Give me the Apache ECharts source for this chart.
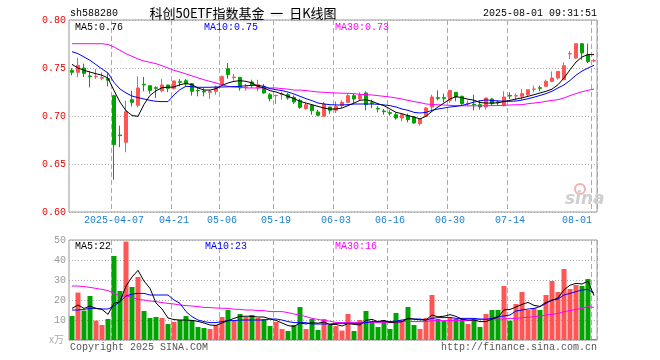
<!DOCTYPE html>
<html><head><meta charset="utf-8">
<script src="https://cdn.jsdelivr.net/npm/echarts@6/dist/echarts.min.js"></script>
<style>html,body{margin:0;padding:0;background:#fff}#c{width:660px;height:360px}</style>
</head><body><div id="c"></div>
<script>
const dates = ['2025-03-26','2025-03-27','2025-03-28','2025-03-31','2025-04-01','2025-04-02','2025-04-03','2025-04-07','2025-04-08','2025-04-09',
'2025-04-10','2025-04-11','2025-04-14','2025-04-15','2025-04-16','2025-04-17','2025-04-18','2025-04-21','2025-04-22','2025-04-23',
'2025-04-24','2025-04-25','2025-04-28','2025-04-29','2025-04-30','2025-05-06','2025-05-07','2025-05-08','2025-05-09','2025-05-12',
'2025-05-13','2025-05-14','2025-05-15','2025-05-16','2025-05-19','2025-05-20','2025-05-21','2025-05-22','2025-05-23','2025-05-26',
'2025-05-27','2025-05-28','2025-05-29','2025-05-30','2025-06-03','2025-06-04','2025-06-05','2025-06-06','2025-06-09','2025-06-10',
'2025-06-11','2025-06-12','2025-06-13','2025-06-16','2025-06-17','2025-06-18','2025-06-19','2025-06-20','2025-06-23','2025-06-24',
'2025-06-25','2025-06-26','2025-06-27','2025-06-30','2025-07-01','2025-07-02','2025-07-03','2025-07-04','2025-07-07','2025-07-08',
'2025-07-09','2025-07-10','2025-07-11','2025-07-14','2025-07-15','2025-07-16','2025-07-17','2025-07-18','2025-07-21','2025-07-22',
'2025-07-23','2025-07-24','2025-07-25','2025-07-28','2025-07-29','2025-07-30','2025-07-31','2025-08-01'];

const open = [0.7476,0.7455,0.7500,0.7417,0.7410,0.7393,0.7389,0.7212,0.6802,0.6726,
0.7170,0.7111,0.7330,0.7316,0.7295,0.7264,0.7323,0.7288,0.7358,0.7368,
0.7337,0.7267,0.7257,0.7247,0.7257,0.7326,0.7493,0.7400,0.7403,0.7299,
0.7354,0.7292,0.7309,0.7222,0.7212,0.7226,0.7222,0.7194,0.7163,0.7076,
0.7111,0.7042,0.6997,0.7094,0.7059,0.7108,0.7142,0.7212,0.7177,0.7240,
0.7139,0.7080,0.7052,0.7035,0.7014,0.6979,0.7003,0.6990,0.6920,0.6997,
0.7094,0.7191,0.7191,0.7163,0.7247,0.7205,0.7125,0.7122,0.7118,0.7094,
0.7177,0.7146,0.7108,0.7215,0.7208,0.7205,0.7222,0.7278,0.7295,0.7309,
0.7361,0.7396,0.7378,0.7646,0.7604,0.7753,0.7639,0.7573];
const close = [0.7455,0.7528,0.7444,0.7410,0.7413,0.7400,0.7372,0.6701,0.6795,0.7045,
0.7142,0.7292,0.7323,0.7267,0.7288,0.7323,0.7288,0.7365,0.7351,0.7333,
0.7257,0.7264,0.7250,0.7254,0.7302,0.7410,0.7431,0.7406,0.7292,0.7302,
0.7319,0.7326,0.7240,0.7181,0.7215,0.7229,0.7188,0.7146,0.7090,0.7118,
0.7056,0.7007,0.7125,0.7059,0.7101,0.7142,0.7212,0.7177,0.7222,0.7118,
0.7132,0.7073,0.7045,0.7028,0.6979,0.7014,0.6962,0.6927,0.6969,0.7083,
0.7198,0.7184,0.7184,0.7267,0.7198,0.7128,0.7128,0.7115,0.7094,0.7188,
0.7128,0.7139,0.7198,0.7208,0.7212,0.7233,0.7274,0.7281,0.7288,0.7361,
0.7396,0.7465,0.7524,0.7649,0.7753,0.7656,0.7569,0.7576];
const low = [0.7424,0.7403,0.7406,0.7299,0.7385,0.7372,0.7309,0.6337,0.6674,0.6622,
0.7100,0.7090,0.7257,0.7233,0.7187,0.7247,0.7250,0.7274,0.7309,0.7309,
0.7212,0.7205,0.7205,0.7177,0.7222,0.7319,0.7389,0.7368,0.7264,0.7264,
0.7292,0.7257,0.7230,0.7153,0.7125,0.7170,0.7170,0.7125,0.7076,0.7066,
0.7014,0.6997,0.6997,0.7024,0.7031,0.7083,0.7135,0.7135,0.7163,0.7059,
0.7083,0.7038,0.7014,0.7003,0.6962,0.6944,0.6934,0.6920,0.6900,0.6997,
0.7049,0.7163,0.7142,0.7135,0.7153,0.7118,0.7100,0.7059,0.7066,0.7066,
0.7108,0.7108,0.7101,0.7177,0.7163,0.7170,0.7205,0.7247,0.7257,0.7302,
0.7351,0.7378,0.7378,0.7594,0.7594,0.7587,0.7552,0.7559];
const high = [0.7500,0.7604,0.7545,0.7465,0.7490,0.7455,0.7448,0.7220,0.6900,0.7160,
0.7264,0.7413,0.7406,0.7316,0.7309,0.7385,0.7323,0.7368,0.7385,0.7385,
0.7344,0.7300,0.7292,0.7274,0.7316,0.7424,0.7552,0.7438,0.7403,0.7333,
0.7378,0.7378,0.7333,0.7240,0.7222,0.7250,0.7240,0.7215,0.7180,0.7135,
0.7118,0.7066,0.7146,0.7094,0.7153,0.7163,0.7233,0.7240,0.7247,0.7257,
0.7170,0.7101,0.7073,0.7059,0.7038,0.7014,0.7024,0.6997,0.6969,0.7094,
0.7222,0.7267,0.7233,0.7267,0.7247,0.7212,0.7163,0.7222,0.7163,0.7188,
0.7188,0.7163,0.7257,0.7247,0.7233,0.7281,0.7274,0.7316,0.7316,0.7378,
0.7465,0.7465,0.7559,0.7674,0.7753,0.7760,0.7753,0.7594];

const ma5 = [0.7538,0.7500,0.7476,0.7458,0.7440,0.7425,0.7395,0.7265,0.7145,0.7055,
0.7005,0.6997,0.7120,0.7215,0.7262,0.7295,0.7299,0.7302,0.7326,0.7340,
0.7326,0.7292,0.7270,0.7270,0.7285,0.7319,0.7344,0.7361,0.7368,0.7361,
0.7344,0.7309,0.7292,0.7264,0.7250,0.7229,0.7205,0.7181,0.7153,0.7135,
0.7118,0.7100,0.7083,0.7072,0.7073,0.7083,0.7108,0.7135,0.7163,0.7170,
0.7153,0.7128,0.7108,0.7073,0.7038,0.7024,0.7003,0.6990,0.6969,0.6997,
0.7049,0.7094,0.7135,0.7177,0.7202,0.7190,0.7175,0.7165,0.7140,0.7135,
0.7135,0.7137,0.7150,0.7163,0.7177,0.7188,0.7205,0.7222,0.7240,0.7257,
0.7280,0.7326,0.7396,0.7481,0.7562,0.7615,0.7640,0.7639];
const ma10 = [0.7670,0.7649,0.7615,0.7580,0.7535,0.7490,0.7448,0.7350,0.7281,0.7240,
0.7208,0.7192,0.7177,0.7163,0.7153,0.7150,0.7150,0.7220,0.7275,0.7309,
0.7305,0.7299,0.7299,0.7299,0.7302,0.7302,0.7304,0.7306,0.7309,0.7316,
0.7319,0.7319,0.7309,0.7285,0.7274,0.7264,0.7250,0.7229,0.7205,0.7181,
0.7160,0.7135,0.7125,0.7118,0.7115,0.7115,0.7118,0.7125,0.7125,0.7125,
0.7125,0.7122,0.7115,0.7108,0.7094,0.7073,0.7059,0.7038,0.7031,0.7038,
0.7059,0.7073,0.7083,0.7094,0.7100,0.7110,0.7127,0.7145,0.7158,0.7168,
0.7161,0.7157,0.7155,0.7153,0.7156,0.7166,0.7180,0.7196,0.7214,0.7233,
0.7258,0.7292,0.7324,0.7370,0.7425,0.7468,0.7500,0.7528];
const ma30 = [0.7753,0.7753,0.7753,0.7753,0.7753,0.7753,0.7745,0.7719,0.7684,0.7649,
0.7622,0.7594,0.7572,0.7559,0.7545,0.7524,0.7500,0.7476,0.7458,0.7438,
0.7418,0.7398,0.7377,0.7361,0.7344,0.7326,0.7309,0.7302,0.7299,0.7292,
0.7292,0.7292,0.7292,0.7292,0.7292,0.7285,0.7280,0.7270,0.7270,0.7265,
0.7257,0.7250,0.7247,0.7243,0.7240,0.7238,0.7236,0.7233,0.7226,0.7223,
0.7219,0.7212,0.7205,0.7198,0.7188,0.7177,0.7163,0.7150,0.7140,0.7125,
0.7120,0.7117,0.7114,0.7111,0.7108,0.7107,0.7106,0.7106,0.7106,0.7107,
0.7108,0.7109,0.7111,0.7115,0.7117,0.7118,0.7128,0.7135,0.7142,0.7153,
0.7163,0.7170,0.7188,0.7212,0.7233,0.7253,0.7267,0.7281];

const vol = [12,23.7,14.7,22,9.7,7.5,10.5,42,24.5,49.2,
26.5,31.5,14.5,11,11.5,11,8,9,10,12,
10,6.5,6,5.5,7.5,11.5,15,9.5,13,11.5,
12.5,11,10.5,7,9,5.5,4.5,7.5,16.5,5.5,
10.5,5,10.5,7.5,7,4.7,13,4.5,10,14.5,
9.5,6.5,9.5,5.5,13.5,10,16.5,7.5,5.5,11,
22.5,10.5,9.5,11,10.5,10.5,8,10.5,6.5,13,
15,15,27,9.7,18,24,15,16,15,22.5,
29.5,24,35.5,25.5,27.5,27,30.5,0.5];
const vma5 = [15.8,17.5,15.8,17,15.8,15.3,12.8,18.3,19.2,27,
31.5,34.8,29.5,25.8,18.5,15.5,11,10.2,10,10,
9.8,9.3,8.5,7.5,7.3,8.5,9.7,10.8,11.8,11.9,
11.8,11.5,11.5,10.5,9.8,8.5,7.2,6.8,8.5,8,
8.7,8.4,9,7.7,7.8,7,8.2,7.8,7.5,9.8,
10.3,9.2,9.8,8.7,9,9.1,10.9,10.4,10.1,10,
12.5,11.6,11.9,12.7,11.8,10.4,10,10,9.2,9.2,
10.4,11.4,15,15.3,16.5,17.8,18.8,17.3,16.8,18.8,
19.8,21,25.1,27.4,28.3,28,29.4,22.2];
const vma10 = [15,15,15.3,15.8,15.8,15.5,15.5,17,19.2,22,
23,23.3,23.3,22.5,22.5,22.5,22.5,20,18.3,14.2,
11.7,10,9.2,8.7,8.7,9.2,9.7,9.7,10,10,
10,10,10,10.5,10.5,10,9.2,8.7,8.7,8.7,
8,8,8,8,8.3,8.3,8.3,8.3,8.3,8.7,
9.2,9.2,9.5,9.2,9.5,10,10.5,10.5,10.5,10,
10.8,11.2,11.2,11.3,10.8,10.8,10.8,10.8,10.5,10.3,
10.8,11.7,12,12.5,14.5,15,15.5,15.8,16.7,18.3,
20,20.5,22.5,23.3,24.2,25,25.3,23.4];
const vma30 = [27,27,26.7,26.3,25.8,25.3,24.7,23.3,22,22,
21.3,20.3,20,19.5,19.2,18.7,18.3,18,17.5,17.2,
17,16.7,16.3,16.2,16,15.9,15.8,15.4,15.3,15,
15,14.7,14.7,14.2,14.2,14.2,13.7,13,12.5,11.7,
10.8,10.3,9.7,9.4,8.8,8.7,8.7,8.8,8.8,8.8,
8.8,8.8,8.8,8.8,8.8,9.2,9.2,9.2,9.2,9.2,
9.7,9.7,9.7,9.7,9.7,9.7,9.7,10,10.3,10.5,
10.5,10.5,10.5,10.8,10.8,11.2,11.3,11.7,12,12.5,
12.8,13.3,14.2,14.7,15.3,15.8,16.7,16.3];

const tickDates = ['2025-04-07','2025-04-21','2025-05-06','2025-05-19','2025-06-03','2025-06-16','2025-06-30','2025-07-14','2025-08-01'];
const tickLabels = ['2025-04-07','04-21','05-06','05-19','06-03','06-16','06-30','07-14','08-01'];
const priceTicks = [0.60, 0.65, 0.70, 0.75, 0.80];
const volTicks = [10, 20, 30, 40, 50];

const UP = '#ff5555', DOWN = '#00a400';
const MONO = '"Liberation Mono","DejaVu Sans Mono",monospace';
const LABEL_BLUE = '#1a7fd0';
const isTick = (i, v) => tickDates.indexOf(v) >= 0;

const chart = echarts.init(document.getElementById('c'), null, {renderer: 'canvas'});
const candles = dates.map((d, i) => [open[i], close[i], low[i], high[i]]);
const volData = vol.map((v, i) => ({value: v, itemStyle: {color: close[i] >= open[i] ? UP : DOWN}}));
const last = dates.length - 1;

function txt(x, y, text, color, opts) {
  opts = opts || {};
  return {type: 'text', x: x, y: y, z: 100, silent: true,
    style: Object.assign({text: text, fill: color, font: opts.font || ('10px ' + MONO),
      textAlign: opts.align || 'left', align: opts.align || 'left',
      textVerticalAlign: 'middle', verticalAlign: 'middle'}, opts.style || {})};
}

const dashed = {show: true, interval: isTick, lineStyle: {color: '#aaa', type: [5, 3], width: 1}};
const dotted = {show: true, lineStyle: {color: '#aaa', type: [1, 2], width: 1}};

chart.setOption({
  animation: false,
  backgroundColor: '#fff',
  grid: [
    {left: 69, top: 20, width: 528, height: 192, show: true, borderColor: '#999', borderWidth: 1},
    {left: 69, top: 240, width: 528, height: 100, show: true, borderColor: '#999', borderWidth: 1}
  ],
  xAxis: [
    {type: 'category', gridIndex: 0, data: dates, boundaryGap: true,
     axisLine: {show: false}, axisTick: {show: false},
     axisLabel: {interval: isTick, margin: 3, color: LABEL_BLUE, fontFamily: MONO, fontSize: 10,
       formatter: v => v === dates[last] ? '{e|' + tickLabels[tickDates.indexOf(v)] + '}' : tickLabels[tickDates.indexOf(v)],
       rich: {e: {color: LABEL_BLUE, fontFamily: MONO, fontSize: 10, padding: [0, 34, 0, 0]}}},
     splitLine: dashed},
    {type: 'category', gridIndex: 1, data: dates, boundaryGap: true,
     axisLine: {show: false}, axisTick: {show: false}, axisLabel: {show: false},
     splitLine: dashed}
  ],
  yAxis: [
    {type: 'value', gridIndex: 0, min: priceTicks[0], max: priceTicks[priceTicks.length - 1], interval: 0.05,
     axisLine: {show: false}, axisTick: {show: false},
     axisLabel: {margin: 3, color: '#ee0000', fontFamily: MONO, fontSize: 10, formatter: v => v.toFixed(2)},
     splitLine: dotted},
    {type: 'value', gridIndex: 1, min: 0, max: volTicks[volTicks.length - 1], interval: 10,
     axisLine: {show: false}, axisTick: {show: false},
     axisLabel: {margin: 3, color: '#999', fontFamily: MONO, fontSize: 10, formatter: v => v === 0 ? '' : String(v)},
     splitLine: dotted}
  ],
  series: [
    {type: 'candlestick', xAxisIndex: 0, yAxisIndex: 0, data: candles, barWidth: 4,
     itemStyle: {color: UP, color0: DOWN, borderColor: UP, borderColor0: DOWN, borderWidth: 1}},
    {type: 'line', xAxisIndex: 0, yAxisIndex: 0, data: ma30, symbol: 'none', lineStyle: {color: '#ff00ff', width: 1}},
    {type: 'line', xAxisIndex: 0, yAxisIndex: 0, data: ma10, symbol: 'none', lineStyle: {color: '#0000ff', width: 1}},
    {type: 'line', xAxisIndex: 0, yAxisIndex: 0, data: ma5, symbol: 'none', lineStyle: {color: '#000', width: 1}},
    {type: 'bar', xAxisIndex: 1, yAxisIndex: 1, data: volData, barWidth: 5},
    {type: 'line', xAxisIndex: 1, yAxisIndex: 1, data: vma30, symbol: 'none', lineStyle: {color: '#ff00ff', width: 1}},
    {type: 'line', xAxisIndex: 1, yAxisIndex: 1, data: vma10, symbol: 'none', lineStyle: {color: '#0000ff', width: 1}},
    {type: 'line', xAxisIndex: 1, yAxisIndex: 1, data: vma5, symbol: 'none', lineStyle: {color: '#000', width: 1}}
  ],
  graphic: [
    txt(70, 13, 'sh588280', '#000'),
    txt(243, 13, '科创50ETF指数基金  一  日K线图', '#000',
      {align: 'center', font: '13px "Noto Sans CJK SC"', style: {textShadowColor: 'rgba(0,0,0,0.15)', textShadowOffsetY: 2, textShadowBlur: 2}}),
    txt(597, 13, '2025-08-01 09:31:51', '#000', {align: 'right'}),
    txt(75, 27, 'MA5:' + ma5[last].toFixed(2), '#000'),
    txt(204, 27, 'MA10:' + ma10[last].toFixed(2), '#0000ff'),
    txt(335, 27, 'MA30:' + ma30[last].toFixed(2), '#ff00ff'),
    txt(75, 246, 'MA5:' + Math.round(vma5[last]), '#000'),
    txt(205, 246, 'MA10:' + Math.round(vma10[last]), '#0000ff'),
    txt(335, 246, 'MA30:' + Math.round(vma30[last]), '#ff00ff'),
    txt(49, 339, 'x万', '#aaa', {font: '10px "Noto Sans CJK SC"'}),
    txt(70, 347, 'Copyright 2025 SINA.COM', '#555'),
    txt(597, 347, 'http://finance.sina.com.cn', '#555', {align: 'right'}),
    {type: 'circle', z: 5, silent: true, shape: {cx: 580, cy: 189, r: 5}, style: {fill: 'none', stroke: '#f4b0b0', lineWidth: 2}},
    txt(565, 200, 'sina', '#cfcfcf', {font: 'italic bold 17px "DejaVu Sans"'})
  ]
});
</script></body></html>
